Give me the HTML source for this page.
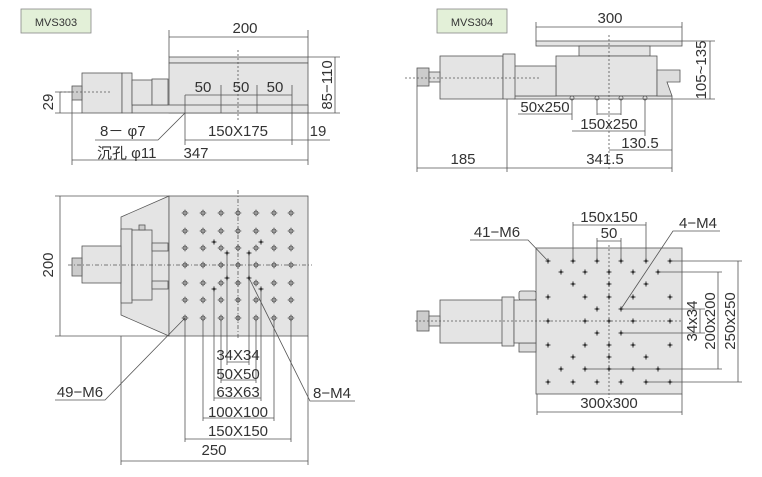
<!DOCTYPE html>
<html><head><meta charset="utf-8"><style>
html,body{margin:0;padding:0;background:#fff}
svg{display:block}
text{font-family:"Liberation Sans","Noto Sans CJK SC",sans-serif;font-size:15px;fill:#333}
</style></head><body>
<svg width="762" height="477" viewBox="0 0 762 477" xmlns="http://www.w3.org/2000/svg">
<defs>
<g id="h"><circle r="2" fill="none" stroke="#444" stroke-width="0.8"/><path d="M-3.5 0H3.5M0 -3.5V3.5" stroke="#444" stroke-width="0.6"/></g>
<g id="s"><circle r="1.5" fill="#333"/><path d="M-3 0H3M0 -3V3" stroke="#444" stroke-width="0.6"/></g>
</defs>
<g fill="none" stroke="#555" stroke-width="0.8">
<rect x="21" y="9" width="70" height="24" fill="#e3f0d8" stroke="#888"/>
<rect x="169" y="57" width="139" height="6" fill="#e4e4e4"/>
<rect x="169" y="63" width="139" height="50" fill="#e4e4e4"/>
<rect x="132" y="105" width="176" height="8" fill="#e4e4e4"/>
<rect x="82" y="73" width="40" height="40" fill="#e4e4e4"/>
<rect x="122" y="73" width="10" height="40" fill="#e4e4e4"/>
<rect x="132" y="80" width="20" height="25" fill="#e4e4e4"/>
<rect x="152" y="79" width="16" height="26" fill="#e4e4e4"/>
<rect x="72" y="86" width="10" height="14" fill="#ccc"/>
<path d="M238 50V120M60 92H110" stroke-dasharray="2 2"/>
<path d="M169 30V57M308 30V57M169 37H308M308 57H340M308 113H340M335 57V113M60 92V113M55 92H72M55 113H82"/>
<path d="M185 95V113M221 85V113M257 85V113M292 85V113M185 95H292"/>
<path d="M185 113V145M292 113V145M185 140H292M308 113V145M292 140H330M72 100V165M308 145V165M72 160H308"/>
<path d="M95 140H158L185 113"/>
<rect x="437" y="9" width="70" height="24" fill="#e3f0d8" stroke="#888"/>
<rect x="536" y="41" width="146" height="5" fill="#e4e4e4"/>
<rect x="579" y="46" width="71" height="10" fill="#e4e4e4"/>
<rect x="556" y="56" width="101" height="40" fill="#e4e4e4"/>
<rect x="514" y="96" width="158" height="3" fill="#e4e4e4"/>
<rect x="514" y="66" width="42" height="30" fill="#e4e4e4"/>
<rect x="440" y="56" width="63" height="43" fill="#e4e4e4"/>
<rect x="503" y="54" width="12" height="45" fill="#e4e4e4"/>
<rect x="417" y="68" width="12" height="18" fill="#ccc"/>
<rect x="429" y="72" width="11" height="10" fill="#ddd"/>
<path d="M657 70H680V82H667L672 96H657Z" fill="#ddd"/>
<path d="M609 35V170M405 78H540" stroke-dasharray="2 2"/>
<path d="M536 22V41M682 22V41M536 27H682M682 41H715M672 99H715M710 41V99"/>
<path d="M572 99V120M597 99V115M621 99V115M645 99V136M518 114H572M597 114H621M572 131H645M672 99V172M609 150H672M417 86V172M507 99V172M417 168H672"/>
<circle cx="572" cy="98" r="2"/><circle cx="597" cy="98" r="2"/><circle cx="621" cy="98" r="2"/><circle cx="645" cy="98" r="2"/>
<path d="M169 196L121 217V315L169 336Z" fill="#e4e4e4"/>
<rect x="169" y="196" width="139" height="140" fill="#e4e4e4"/>
<rect x="121" y="229" width="11" height="74" fill="#e4e4e4"/>
<rect x="132" y="230" width="20" height="70" fill="#e4e4e4"/>
<rect x="82" y="246" width="39" height="37" fill="#e4e4e4"/>
<rect x="72" y="258" width="10" height="18" fill="#ccc"/>
<rect x="139" y="225" width="6" height="5" fill="#ccc"/>
<rect x="152" y="243" width="16" height="8" fill="#ddd"/>
<rect x="152" y="281" width="16" height="8" fill="#ddd"/>
<path d="M238 190V340M68 265H312" stroke-dasharray="4 2 1 2"/>
<path d="M55 196H169M55 336H169M60 196V336"/>
<path d="M227 253V365M249 253V365M227 362H249M221 320V383M256 320V383M221 380H256M214 289V401M261 289V401M214 398H261M203 320V421M274 320V421M203 418H274M185 318V442M291 318V442M185 439H291M121 336V465M308 336V465M121 461H308"/>
<path d="M55 400H105L185 318M355 401H310L249 278"/>
<rect x="536" y="248" width="146" height="146" fill="#e4e4e4"/>
<rect x="519" y="291" width="17" height="9" fill="#ddd" rx="2"/>
<rect x="519" y="343" width="17" height="9" fill="#ddd"/>
<rect x="440" y="300" width="63" height="43" fill="#e4e4e4"/>
<rect x="502" y="297" width="12" height="49" fill="#e4e4e4"/>
<rect x="514" y="300" width="22" height="43" fill="#e4e4e4"/>
<rect x="417" y="311" width="12" height="20" fill="#ccc"/>
<rect x="429" y="316" width="11" height="10" fill="#ddd"/>
<path d="M609 245V398M415 321H682" stroke-dasharray="2 2"/>
<path d="M573 222V261M646 222V261M573 225H646M597 238V261M621 238V261M597 241H621"/>
<path d="M470 240H528L548 261M720 231H673L621 309"/>
<path d="M621 309H705M621 333H705M700 309V333M658 272H722M585 369H722M718 272V369M670 261H742M646 382H742M738 261V382M537 394V415M682 394V415M537 412H682"/>
</g>
<g>
<use href="#h" x="185" y="213"/><use href="#h" x="203" y="213"/><use href="#h" x="221" y="213"/><use href="#h" x="238" y="213"/><use href="#h" x="256" y="213"/><use href="#h" x="274" y="213"/><use href="#h" x="291" y="213"/>
<use href="#h" x="185" y="231"/><use href="#h" x="203" y="231"/><use href="#h" x="221" y="231"/><use href="#h" x="238" y="231"/><use href="#h" x="256" y="231"/><use href="#h" x="274" y="231"/><use href="#h" x="291" y="231"/>
<use href="#h" x="185" y="248"/><use href="#h" x="203" y="248"/><use href="#h" x="221" y="248"/><use href="#h" x="238" y="248"/><use href="#h" x="256" y="248"/><use href="#h" x="274" y="248"/><use href="#h" x="291" y="248"/>
<use href="#h" x="185" y="265"/><use href="#h" x="203" y="265"/><use href="#h" x="221" y="265"/><use href="#h" x="238" y="265"/><use href="#h" x="256" y="265"/><use href="#h" x="274" y="265"/><use href="#h" x="291" y="265"/>
<use href="#h" x="185" y="283"/><use href="#h" x="203" y="283"/><use href="#h" x="221" y="283"/><use href="#h" x="238" y="283"/><use href="#h" x="256" y="283"/><use href="#h" x="274" y="283"/><use href="#h" x="291" y="283"/>
<use href="#h" x="185" y="300"/><use href="#h" x="203" y="300"/><use href="#h" x="221" y="300"/><use href="#h" x="238" y="300"/><use href="#h" x="256" y="300"/><use href="#h" x="274" y="300"/><use href="#h" x="291" y="300"/>
<use href="#h" x="185" y="318"/><use href="#h" x="203" y="318"/><use href="#h" x="221" y="318"/><use href="#h" x="238" y="318"/><use href="#h" x="256" y="318"/><use href="#h" x="274" y="318"/><use href="#h" x="291" y="318"/>
<use href="#s" x="214" y="242"/><use href="#s" x="227" y="253"/><use href="#s" x="249" y="253"/><use href="#s" x="261" y="242"/>
<use href="#s" x="227" y="278"/><use href="#s" x="214" y="289"/><use href="#s" x="249" y="278"/><use href="#s" x="261" y="289"/>
</g>
<g>
<use href="#s" x="548" y="261"/><use href="#s" x="573" y="261"/><use href="#s" x="597" y="261"/><use href="#s" x="621" y="261"/><use href="#s" x="646" y="261"/><use href="#s" x="670" y="261"/>
<use href="#s" x="561" y="272"/><use href="#s" x="585" y="272"/><use href="#s" x="609" y="272"/><use href="#s" x="633" y="272"/><use href="#s" x="658" y="272"/>
<use href="#s" x="573" y="284"/><use href="#s" x="609" y="284"/><use href="#s" x="646" y="284"/>
<use href="#s" x="548" y="297"/><use href="#s" x="585" y="297"/><use href="#s" x="609" y="297"/><use href="#s" x="633" y="297"/><use href="#s" x="670" y="297"/>
<use href="#s" x="597" y="309"/><use href="#s" x="621" y="309"/>
<use href="#s" x="548" y="321"/><use href="#s" x="585" y="321"/><use href="#s" x="609" y="321"/><use href="#s" x="633" y="321"/><use href="#s" x="670" y="321"/>
<use href="#s" x="597" y="333"/><use href="#s" x="621" y="333"/>
<use href="#s" x="548" y="345"/><use href="#s" x="585" y="345"/><use href="#s" x="609" y="345"/><use href="#s" x="633" y="345"/><use href="#s" x="670" y="345"/>
<use href="#s" x="573" y="357"/><use href="#s" x="609" y="357"/><use href="#s" x="646" y="357"/>
<use href="#s" x="561" y="369"/><use href="#s" x="585" y="369"/><use href="#s" x="609" y="369"/><use href="#s" x="633" y="369"/><use href="#s" x="658" y="369"/>
<use href="#s" x="548" y="382"/><use href="#s" x="573" y="382"/><use href="#s" x="597" y="382"/><use href="#s" x="621" y="382"/><use href="#s" x="646" y="382"/><use href="#s" x="670" y="382"/>
</g>
<text x="56" y="26" text-anchor="middle" style="font-size:11px">MVS303</text>
<text x="472" y="26" text-anchor="middle" style="font-size:11px">MVS304</text>
<text x="245" y="33" text-anchor="middle">200</text>
<text x="203" y="92" text-anchor="middle">50</text>
<text x="241" y="92" text-anchor="middle">50</text>
<text x="275" y="92" text-anchor="middle">50</text>
<text x="238" y="136" text-anchor="middle">150X175</text>
<text x="318" y="136" text-anchor="middle">19</text>
<text x="100" y="136">8－ φ7</text>
<text x="97" y="158">沉孔 φ11</text>
<text x="196" y="158" text-anchor="middle">347</text>
<text transform="translate(332 85) rotate(-90)" text-anchor="middle">85−110</text>
<text transform="translate(53 102) rotate(-90)" text-anchor="middle">29</text>
<text x="610" y="23" text-anchor="middle">300</text>
<text transform="translate(706 70) rotate(-90)" text-anchor="middle">105~135</text>
<text x="545" y="112" text-anchor="middle">50x250</text>
<text x="609" y="129" text-anchor="middle">150x250</text>
<text x="640" y="148" text-anchor="middle">130.5</text>
<text x="463" y="164" text-anchor="middle">185</text>
<text x="605" y="164" text-anchor="middle">341.5</text>
<text transform="translate(53 265) rotate(-90)" text-anchor="middle">200</text>
<text x="238" y="360" text-anchor="middle">34X34</text>
<text x="238" y="379" text-anchor="middle">50X50</text>
<text x="238" y="397" text-anchor="middle">63X63</text>
<text x="238" y="417" text-anchor="middle">100X100</text>
<text x="238" y="436" text-anchor="middle">150X150</text>
<text x="214" y="455" text-anchor="middle">250</text>
<text x="80" y="397" text-anchor="middle">49−M6</text>
<text x="332" y="398" text-anchor="middle">8−M4</text>
<text x="609" y="222" text-anchor="middle">150x150</text>
<text x="609" y="238" text-anchor="middle">50</text>
<text x="497" y="237" text-anchor="middle">41−M6</text>
<text x="698" y="228" text-anchor="middle">4−M4</text>
<text transform="translate(697 321) rotate(-90)" text-anchor="middle">34x34</text>
<text transform="translate(715 321) rotate(-90)" text-anchor="middle">200x200</text>
<text transform="translate(735 321) rotate(-90)" text-anchor="middle">250x250</text>
<text x="609" y="408" text-anchor="middle">300x300</text>
</svg>
</body></html>
